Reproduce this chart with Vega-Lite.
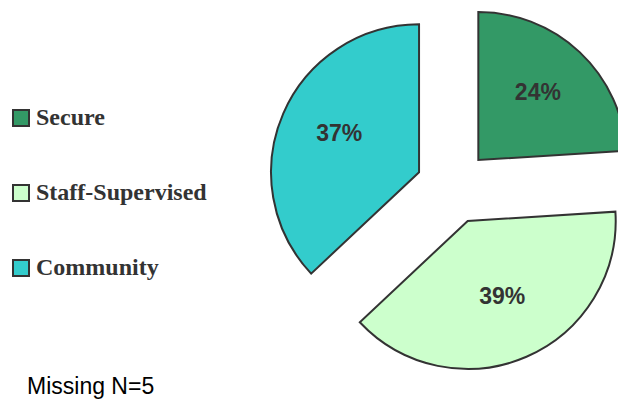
{
  "$schema": "https://vega.github.io/schema/vega-lite/v6.json",
  "width": 906,
  "height": 374,
  "autosize": "none",
  "padding": {"left": 0, "top": 0, "right": 0, "bottom": 29},
  "background": "white",
  "title": {
    "text": "Missing N=5",
    "orient": "bottom",
    "anchor": "start",
    "frame": "group",
    "offset": 2,
    "dx": 27,
    "font": "Liberation Sans",
    "fontSize": 23,
    "fontWeight": "normal",
    "color": "#000000"
  },
  "data": {
    "values": [
      {"category": "Secure", "pct": 0.24, "n": 1},
      {"category": "Staff-Supervised", "pct": 0.39, "n": 2},
      {"category": "Community", "pct": 0.37, "n": 3}
    ]
  },
  "encoding": {
    "theta": {"field": "pct", "type": "quantitative", "stack": true},
    "order": {"field": "n", "type": "quantitative", "sort": "ascending"}
  },
  "layer": [
    {
      "mark": {
        "type": "arc",
        "radius": 148,
        "stroke": "#333333",
        "strokeWidth": 2,
        "x": {"expr": "width/2 + 37*sin(scale('theta', (datum.pct_start + datum.pct_end)/2))"},
        "y": {"expr": "height/2 - 37*cos(scale('theta', (datum.pct_start + datum.pct_end)/2))"}
      },
      "encoding": {
        "color": {
          "field": "category",
          "type": "nominal",
          "scale": {
            "domain": ["Secure", "Staff-Supervised", "Community"],
            "range": ["#339966", "#CCFFCC", "#33CCCC"]
          },
          "legend": {
            "title": null,
            "orient": "none",
            "legendX": 9,
            "legendY": 106,
            "symbolType": "square",
            "symbolSize": 256,
            "symbolStrokeColor": "#333333",
            "symbolStrokeWidth": 2,
            "symbolOpacity": 1,
            "labelFont": "Liberation Serif",
            "labelFontSize": 24,
            "labelFontWeight": "bold",
            "labelColor": "#333333",
            "labelOffset": 3,
            "rowPadding": 51,
            "labelLimit": 400
          }
        }
      }
    },
    {
      "mark": {
        "type": "text",
        "radius": 124,
        "dy": -4,
        "font": "Liberation Sans",
        "fontSize": 23,
        "fontWeight": "bold",
        "color": "#333333",
        "align": "center",
        "baseline": "middle"
      },
      "encoding": {
        "text": {"field": "pct", "type": "quantitative", "format": ".0%"}
      }
    }
  ],
  "config": {
    "view": {"stroke": null}
  }
}
